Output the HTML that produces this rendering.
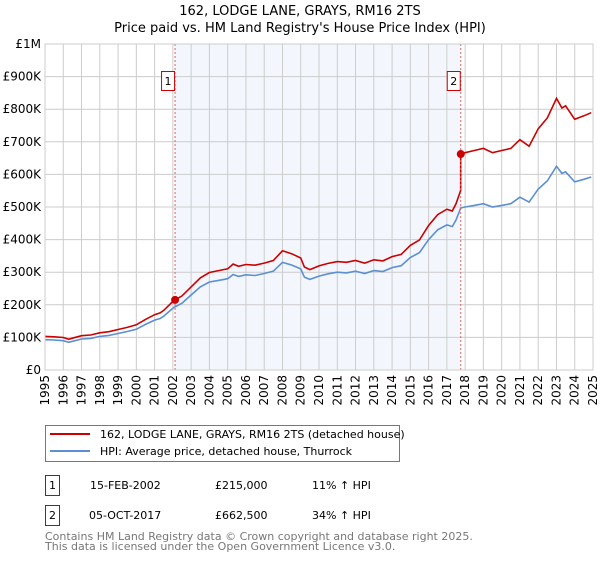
<!DOCTYPE html>
<html><head><meta charset="utf-8"><style>
body{margin:0;background:#fff;font-family:"Liberation Sans","DejaVu Sans",sans-serif;}
svg text{font-family:"DejaVu Sans","Liberation Sans",sans-serif;}
</style></head><body>
<svg width="600" height="560" viewBox="0 0 600 560">
<text x="300" y="15" text-anchor="middle" font-size="13">162, LODGE LANE, GRAYS, RM16 2TS</text>
<text x="300" y="32" text-anchor="middle" font-size="13">Price paid vs. HM Land Registry's House Price Index (HPI)</text>
<g id="plot"></g>
<g>
<rect x="45.5" y="425.5" width="354" height="36" fill="#fff" stroke="#777"/>
<line x1="50" y1="434" x2="90" y2="434" stroke="#cc0000" stroke-width="2"/>
<text x="100" y="438" font-size="11">162, LODGE LANE, GRAYS, RM16 2TS (detached house)</text>
<line x1="50" y1="451" x2="90" y2="451" stroke="#5b8fd4" stroke-width="2"/>
<text x="100" y="455" font-size="11">HPI: Average price, detached house, Thurrock</text>
</g>
<g font-size="11">
<rect x="45.5" y="475.5" width="14" height="20" fill="#fff" stroke="#cc0000"/>
<text x="52.5" y="489" text-anchor="middle">1</text>
<text x="90" y="489">15-FEB-2002</text><text x="215" y="489">£215,000</text><text x="312" y="489">11% ↑ HPI</text>
<rect x="45.5" y="505.5" width="14" height="20" fill="#fff" stroke="#cc0000"/>
<text x="52.5" y="519" text-anchor="middle">2</text>
<text x="89" y="519">05-OCT-2017</text><text x="215" y="519">£662,500</text><text x="312" y="519">34% ↑ HPI</text>
</g>
<g font-size="11" fill="#777">
<text x="45" y="540" fill="#777">Contains HM Land Registry data © Crown copyright and database right 2025.</text>
<text x="45" y="550" fill="#777">This data is licensed under the Open Government Licence v3.0.</text>
</g>
</svg>
<script>
const hpiYears=[1995,1995.5,1996,1996.3,1996.5,1997,1997.5,1998,1998.5,1999,1999.5,2000,2000.5,2001,2001.3,2001.5,2002,2002.12,2002.5,2003,2003.5,2004,2004.5,2005,2005.3,2005.6,2006,2006.5,2007,2007.5,2008,2008.5,2009,2009.2,2009.5,2010,2010.5,2011,2011.5,2012,2012.5,2013,2013.5,2014,2014.5,2015,2015.5,2016,2016.5,2017,2017.3,2017.5,2017.76,2018,2018.5,2019,2019.5,2020,2020.5,2021,2021.5,2022,2022.5,2023,2023.3,2023.5,2024,2024.5,2024.9];
const hpiValues=[93,92,90,85,88,95,97,103,106,112,118,125,140,153,158,165,190,194,205,230,255,270,275,280,293,287,292,290,296,303,330,322,310,285,278,288,295,300,298,303,296,305,302,314,320,345,360,400,430,445,440,460,497,500,505,510,500,505,510,530,515,555,580,625,603,608,577,585,592];
const saleYears=[2002.12,2017.76];
const salePrices=[215,662.5];
const yTicks=[0,100,200,300,400,500,600,700,800,900,1000];
const yTickLabels=["£0","£100K","£200K","£300K","£400K","£500K","£600K","£700K","£800K","£900K","£1M"];
const xTicks=[1995,1996,1997,1998,1999,2000,2001,2002,2003,2004,2005,2006,2007,2008,2009,2010,2011,2012,2013,2014,2015,2016,2017,2018,2019,2020,2021,2022,2023,2024,2025];
const X0=45,X1=593,Y0=370,Y1=44;
const sx=y=>X0+(y-1995)/(2025-1995)*(X1-X0);
const sy=v=>Y0-v/1000*(Y0-Y1);
const NS="http://www.w3.org/2000/svg";
const g=document.getElementById('plot');
function mk(t,a){const e=document.createElementNS(NS,t);for(const k in a)e.setAttribute(k,a[k]);g.appendChild(e);return e;}
const bg=mk('rect',{x:X0,y:Y1,width:X1-X0,height:Y0-Y1,fill:'#fff'});


const sh=mk('rect',{x:sx(saleYears[0]),y:Y1,width:sx(saleYears[1])-sx(saleYears[0]),height:Y0-Y1,fill:'#eef3fc',opacity:0.7});


xTicks.forEach(t=>{const l=mk('line',{x1:sx(t),x2:sx(t),y1:Y1,y2:Y0,stroke:'#ccc','stroke-width':1});


const tx=mk('text',{x:0,y:0,'font-size':12,'text-anchor':'end',transform:`translate(${sx(t)+4},${Y0+5}) rotate(-90)`});tx.textContent=t;

});
yTicks.forEach((t,i)=>{const l=mk('line',{x1:X0,x2:X1,y1:sy(t),y2:sy(t),stroke:'#ccc','stroke-width':1});


const tx=mk('text',{x:X0-4,y:sy(t)+4,'font-size':12,'text-anchor':'end'});tx.textContent=yTickLabels[i];

});
function interp(y){for(let i=0;i<hpiYears.length-1;i++){if(y>=hpiYears[i]&&y<=hpiYears[i+1]){const f=(y-hpiYears[i])/(hpiYears[i+1]-hpiYears[i]);return hpiValues[i]+f*(hpiValues[i+1]-hpiValues[i]);}}return hpiValues[hpiValues.length-1];}
const r1=salePrices[0]/interp(saleYears[0]),r2=salePrices[1]/interp(saleYears[1]);
let bp='',rp='';
hpiYears.forEach((y,i)=>{bp+=(i?'L':'M')+sx(y).toFixed(1)+','+sy(hpiValues[i]).toFixed(1);
const r=y<saleYears[1]?r1:r2;
if(y>=saleYears[1]&&y-saleYears[1]<0.01){rp+='L'+sx(y).toFixed(1)+','+sy(hpiValues[i]*r1).toFixed(1);}
rp+=(i?'L':'M')+sx(y).toFixed(1)+','+sy(hpiValues[i]*r).toFixed(1);});
const bl=mk('path',{d:bp,fill:'none',stroke:'#5b8fd4','stroke-width':1.6});


const rl=mk('path',{d:rp,fill:'none',stroke:'#cc0000','stroke-width':1.6});


saleYears.forEach((y,i)=>{const d=mk('line',{x1:sx(y),x2:sx(y),y1:Y1,y2:Y0,stroke:'#e06060','stroke-dasharray':'2,2','stroke-width':1});


const c=mk('circle',{cx:sx(y),cy:sy(salePrices[i]),r:4,fill:'#cc0000'});


const b=mk('rect',{x:sx(y)-13.5,y:71.5,width:13,height:19,fill:'#fff',stroke:'#cc0000'});


const t=mk('text',{x:sx(y)-7,y:85,'font-size':11,'text-anchor':'middle'});t.textContent=i+1;

});
const fr=mk('rect',{x:X0,y:Y1,width:X1-X0,height:Y0-Y1,fill:'none',stroke:'#ccc'});


</script>
</body></html>
